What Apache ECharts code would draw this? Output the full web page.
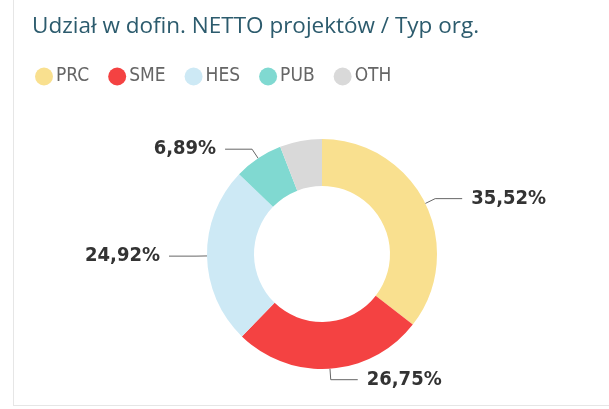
<!DOCTYPE html>
<html>
<head>
<meta charset="utf-8">
<script src="https://cdn.jsdelivr.net/npm/echarts@6/dist/echarts.min.js"></script>
<style>
  html, body { margin: 0; padding: 0; background: #fff; }
  #frame {
    position: absolute; left: 13px; top: 0; width: 596px; height: 405px;
    border-left: 1px solid #e6e6e6; border-bottom: 1px solid #e6e6e6;
  }
  #chart { position: absolute; left: 0; top: 0; width: 609px; height: 409px; }
</style>
</head>
<body>
<div id="frame"></div>
<div id="chart"></div>
<script>
  const categories = ['PRC', 'SME', 'HES', 'PUB', 'OTH']
  const shares = [35.52, 26.75, 24.92, 6.89, 5.92]
  const colors = ['#F9E08F', '#F44242', '#CDE9F5', '#80D9D1', '#D9D9D9']
  const showLabel = [true, true, true, true, false]

  const chart = echarts.init(document.getElementById('chart'))

  const pieData = categories.map((name, i) => ({
    name: name,
    value: shares[i],
    itemStyle: { color: colors[i] },
    label: { show: showLabel[i] },
    labelLine: { show: showLabel[i] }
  }))

  chart.setOption({
    animation: false,
    title: {
      text: 'Udział w dofin. NETTO projektów / Typ org.',
      left: 32,
      top: 15,
      padding: 0,
      textStyle: {
        fontFamily: 'Open Sans',
        fontWeight: 'normal',
        fontSize: 22.5,
        color: '#2C5B6D'
      }
    },
    legend: {
      data: categories,
      left: 35,
      top: 67,
      padding: 0,
      icon: 'circle',
      itemWidth: 18,
      itemHeight: 18,
      itemGap: 19,
      textStyle: {
        fontFamily: 'DejaVu Sans Condensed',
        fontSize: 19,
        color: '#666',
        padding: [0, 0, 0, -2]
      }
    },
    series: [{
      type: 'pie',
      center: [322, 254],
      radius: [68, 115],
      startAngle: 90,
      clockwise: true,
      data: pieData,
      label: {
        formatter: p => p.value.toFixed(2).replace('.', ',') + '%',
        fontFamily: 'DejaVu Sans Condensed',
        fontWeight: 'bold',
        fontSize: 20,
        color: '#333',
        distanceToLabelLine: 9
      },
      labelLine: {
        length: 11,
        length2: 27,
        lineStyle: { color: '#666', width: 1 }
      }
    }]
  })
</script>
</body>
</html>
